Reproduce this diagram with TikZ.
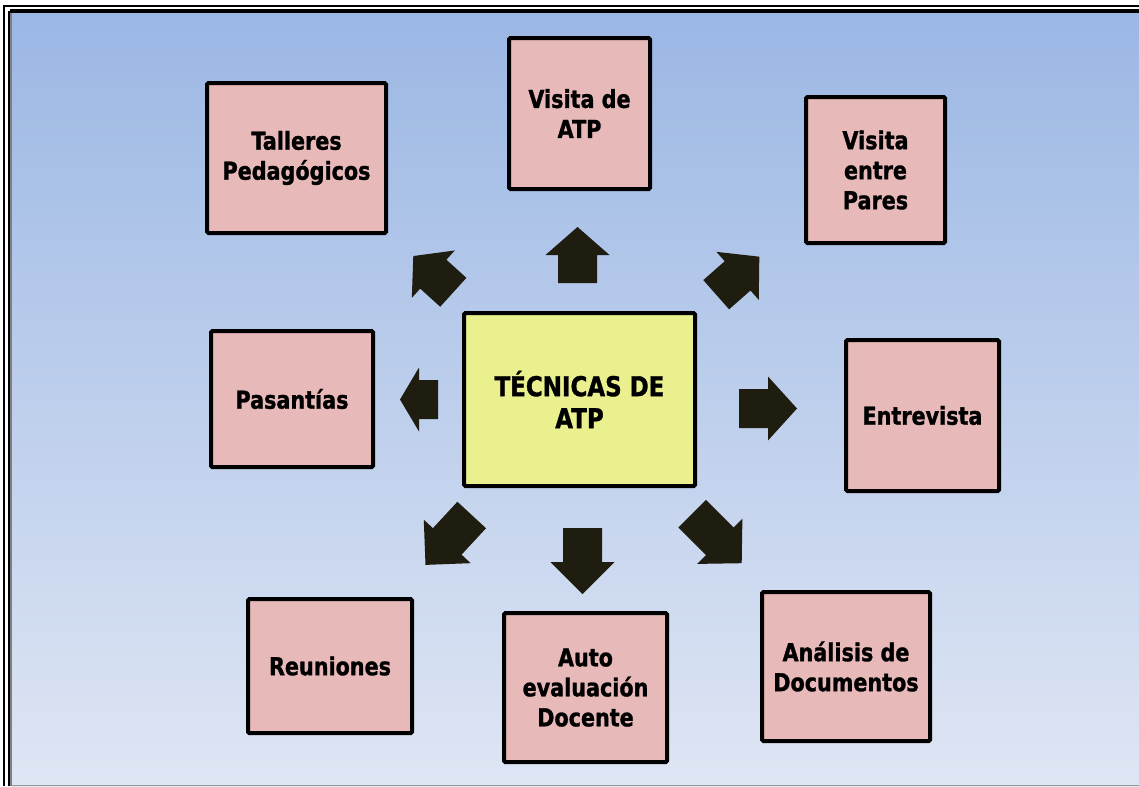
\documentclass[tikz,border=0pt]{standalone}
\usepackage{fontspec}
\setmainfont{DejaVu Sans}[FakeStretch=0.84, BoldFeatures={FakeBold=1.2}]
\usetikzlibrary{positioning}

\definecolor{boxpink}{RGB}{232,185,185}
\definecolor{boxyellow}{RGB}{235,240,143}
\definecolor{arrowdark}{RGB}{31,28,16}
\definecolor{bgtop}{RGB}{155,183,228}
\definecolor{bgbottom}{RGB}{223,230,244}

\begin{document}
\begin{tikzpicture}[x=0.75pt, y=0.75pt,
	technique/.style={draw=black, line width=3pt, fill=boxpink, rounded corners=1pt,
		align=center, inner sep=0pt, font=\bfseries\fontsize{18.5}{22.5}\selectfont},
	core/.style={technique, fill=boxyellow, font=\bfseries\fontsize{20.5}{24}\selectfont},
	pics/blockarrow/.style 2 args={code={
		\fill[arrowdark] (0,-19.5) -- ({#1-#2},-19.5) -- ({#1-#2},-32) -- (#1,0)
			-- ({#1-#2},32) -- ({#1-#2},19.5) -- (0,19.5) -- cycle;}}]
	\useasboundingbox (0,0) rectangle (1139,-786);
	% frame and background
	\fill[white] (0,0) rectangle (1139,-786);
	\fill[top color=bgtop, bottom color=bgbottom] (12,-13) rectangle (1139,-786);
	\draw[line width=1.5pt] (4,-786) -- (4,-6) -- (1139,-6);
	\draw[line width=3pt] (1139,-11) -- (10,-11);
	\draw[line width=1.5pt] (9,-786) -- (9,-11);
	\draw[gray, line width=1.5pt] (11,-13) -- (11,-786);
	\draw[gray!80, line width=1pt] (12,-785.5) -- (1139,-785.5);

	% boxes
	\node[core, minimum width=173.25pt, minimum height=129.75pt] (tecnicas) at (579.5,-399.5) {TÉCNICAS DE\\ATP};
	\node[technique, minimum width=105.75pt, minimum height=113.25pt] (visita) at (579.5,-113.5) {Visita de\\ATP};
	\node[technique, minimum width=134.25pt, minimum height=112.5pt] (talleres) at (296.5,-158) {Talleres\\Pedagógicos};
	\node[technique, minimum width=104.25pt, minimum height=109.5pt] (pares) at (875.5,-170) {Visita\\entre\\Pares};
	\node[technique, minimum width=121.5pt, minimum height=102pt] (pasantias) at (292,-399) {Pasantías};
	\node[technique, minimum width=114.75pt, minimum height=113.25pt] (entrevista) at (922.5,-415.5) {Entrevista};
	\node[technique, minimum width=123pt, minimum height=100.5pt] (reuniones) at (330,-666) {Reuniones};
	\node[technique, minimum width=122.25pt, minimum height=111.75pt] (auto) at (585.5,-687.5) {Auto\\evaluación\\Docente};
	\node[technique, minimum width=126pt, minimum height=111.75pt] (analisis) at (846,-666.5) {Análisis de\\Documentos};

	% block arrows
	\pic[rotate=90] at (577.5,-283) {blockarrow={56}{28}};
	\pic[rotate=0] at (739,-408.5) {blockarrow={58}{29}};
	\pic[rotate=180] at (438,-399.5) {blockarrow={38}{19}};
	\pic[rotate=270] at (582.5,-528) {blockarrow={66}{32}};
	\pic[rotate=137.8] at (453.3,-292.3) {blockarrow={54}{27}};
	\pic[rotate=41.4] at (716.2,-294.7) {blockarrow={57.5}{29}};
	\pic[rotate=227.2] at (471.7,-515) {blockarrow={68}{32}};
	\pic[rotate=315] at (692.2,-513.7) {blockarrow={70}{31}};
\end{tikzpicture}
\end{document}
